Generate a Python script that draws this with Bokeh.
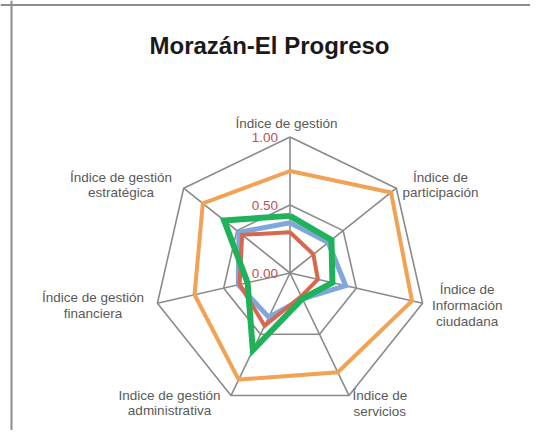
import numpy as np
from bokeh.plotting import figure
from bokeh.models import Range1d, Span
from bokeh.core.properties import value
from bokeh.embed import file_html
from bokeh.resources import INLINE

# ---------------- data ----------------
title = "Morazán-El Progreso"
categories = [
    "Índice de gestión",
    "Índice de\nparticipación",
    "Índice de\nInformación\nciudadana",
    "Índice de\nservicios",
    "Indice de gestión\nadministrativa",
    "Índice de gestión\nfinanciera",
    "Índice de gestión\nestratégica",
]
tick_values = [0.0, 0.5, 1.0]
tick_labels = ["0.00", "0.50", "1.00"]

series_orange = [0.75, 0.95, 0.92, 0.81, 0.87, 0.72, 0.82]
series_blue = [0.37, 0.36, 0.42, 0.21, 0.36, 0.39, 0.48]
series_red = [0.30, 0.22, 0.21, 0.19, 0.43, 0.38, 0.45]
series_green = [0.42, 0.39, 0.32, 0.21, 0.63, 0.32, 0.62]

# ---------------- layout ----------------
W, H = 530, 430
OX, OY = 0, 0  # page position of the figure's top-left corner
CX, CY, R = 289.5, 272.5, 136.0  # page pixel centre and radius of 1.0


def px2d(px, py):
    return (px - CX) / R, (CY - py) / R


x0, _ = px2d(OX, 0)
x1, _ = px2d(OX + W, 0)
_, y0 = px2d(0, OY + H)
_, y1 = px2d(0, OY)

p = figure(width=W, height=H, output_backend="svg", toolbar_location=None,
           x_range=Range1d(x0, x1), y_range=Range1d(y0, y1), min_border=0)
p.axis.visible = False
p.grid.visible = False
p.outline_line_color = None
p.background_fill_color = "white"
p.border_fill_color = "white"

# chart border (only top and left are visible in the reference)
bx, _ = px2d(11, 0)
_, by = px2d(0, 4.5)
p.add_layout(Span(location=bx, dimension="height", line_color="#8c8c8c", line_width=2))
p.add_layout(Span(location=by, dimension="width", line_color="#8c8c8c", line_width=2))

n = len(categories)
ang = np.pi / 2 - 2 * np.pi * np.arange(n) / n


def xy(vals):
    v = np.asarray(vals, dtype=float)
    xs = v * np.cos(ang)
    ys = v * np.sin(ang)
    return list(xs) + [xs[0]], list(ys) + [ys[0]]


# grid rings
grid_col = "#8a8a8a"
for tv in tick_values[1:]:
    gx, gy = xy([tv] * n)
    p.line(gx, gy, line_color=grid_col, line_width=1.6)
# spokes
sx, sy = xy([tick_values[-1]] * n)
p.segment(x0=[0] * n, y0=[0] * n, x1=sx[:-1], y1=sy[:-1], line_color=grid_col, line_width=1.6)

# series
for vals, col, lw in [
    (series_orange, "#F2A254", 4),
    (series_blue, "#7FA7DB", 5),
    (series_red, "#D9674D", 4),
    (series_green, "#1FB25A", 6),
]:
    lx, ly = xy(vals)
    p.line(lx, ly, line_color=col, line_width=lw, line_join="miter")

# tick labels
tx = [-12 / R] * len(tick_values)
p.text(x=tx, y=tick_values, text=tick_labels, text_align="right", text_baseline="middle",
       text_font=value("Liberation Sans"), text_font_size="13.5px", text_color="#B9534E")

# category labels: centre of each label block in page pixels
label_pos = [
    (286, 123), (440, 184.5), (466.7, 305), (379.3, 403),
    (169, 402.5), (92.5, 305), (120.5, 184.5),
]
lab_x, lab_y, lab_t = [], [], []
line_h = 15.6
for cat, (px, py) in zip(categories, label_pos):
    lines = cat.split("\n")
    k = len(lines)
    for i, ln in enumerate(lines):
        yy = py + (i - (k - 1) / 2) * line_h
        dx, dy = px2d(px, yy)
        lab_x.append(dx)
        lab_y.append(dy)
        lab_t.append(ln)
p.text(x=lab_x, y=lab_y, text=lab_t, text_align="center", text_baseline="middle",
       text_font=value("Liberation Sans"), text_font_size="13.5px", text_color="#595959")

# title
tx0, ty0 = px2d(269, 45)
p.text(x=[tx0], y=[ty0], text=[title], text_align="center", text_baseline="middle",
       text_font=value("Liberation Sans"), text_font_style="bold", text_font_size="24px",
       text_color="#1a1a1a")

open("out.html", "w").write(file_html(p, INLINE))
